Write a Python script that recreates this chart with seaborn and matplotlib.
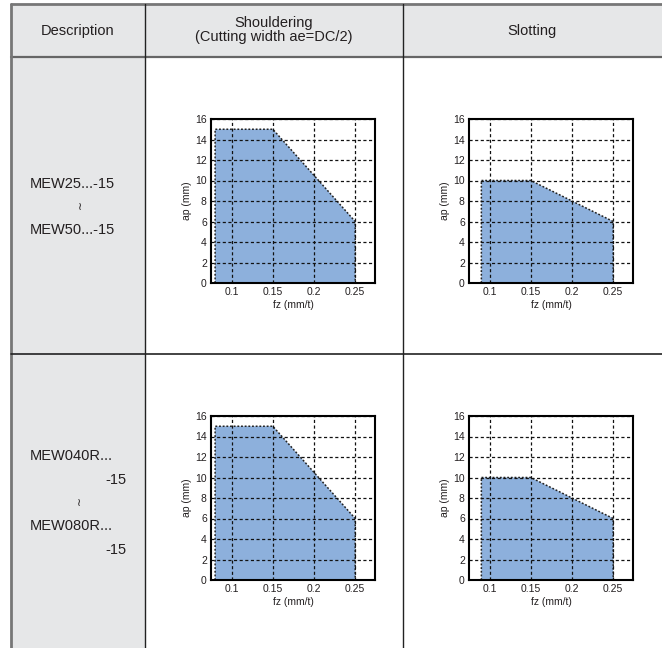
import matplotlib
matplotlib.use("Agg")
import matplotlib.pyplot as plt
import seaborn as sns

sns.set_theme(style="white")
plt.rcParams["font.family"] = ["Liberation Sans", "DejaVu Sans"]

# cutting-condition areas (fz in mm/t, ap in mm)
fz_shoulder = [0.08, 0.08, 0.15, 0.25, 0.25]
ap_shoulder = [0, 15, 15, 6, 0]
fz_slot = [0.09, 0.09, 0.15, 0.25, 0.25]
ap_slot = [0, 10, 10, 6, 0]

x_ticks = [0.1, 0.15, 0.2, 0.25]
x_ticklabels = ["0.1", "0.15", "0.2", "0.25"]
y_ticks = [0, 2, 4, 6, 8, 10, 12, 14, 16]

headers = ["Description", "Shouldering\n(Cutting width ae=DC/2)", "Slotting"]
row1_names = ["MEW25...-15", "MEW50...-15"]
row2_names = ["MEW040R...", "-15", "MEW080R...", "-15"]

FILL = "#8db0dc"
TXT = "#231f20"
W, H = 662, 648

fig = plt.figure(figsize=(W / 100, H / 100), dpi=100)

# table background
bg = fig.add_axes([0, 0, 1, 1], zorder=-1)
bg.set_xlim(0, W)
bg.set_ylim(H, 0)
bg.axis("off")
gray = "#e6e7e8"
bg.add_patch(plt.Rectangle((11, 4), W - 11, 53, color=gray, lw=0))
bg.add_patch(plt.Rectangle((11, 57), 134, H - 57, color=gray, lw=0))
bg.plot([11, W], [4, 4], color="#777777", lw=2)
bg.plot([11, W], [57, 57], color="#666666", lw=1.6)
bg.plot([11, 11], [4, H], color="#777777", lw=2)
bg.plot([145, 145], [4, H], color="#222222", lw=1)
bg.plot([403, 403], [4, H], color="#222222", lw=1)
bg.plot([11, W], [354, 354], color="#222222", lw=1.2)

kw = dict(fontsize=10.5, color=TXT)
bg.text(78, 31, headers[0], ha="center", va="center", **kw)
bg.text(274, 30, headers[1], ha="center", va="center", linespacing=0.95, **kw)
bg.text(532, 31, headers[2], ha="center", va="center", **kw)

bg.text(30, 184, row1_names[0], ha="left", va="center", **kw)
bg.text(80, 207, "≀", ha="center", va="center", fontsize=8, color=TXT,
        family=["DejaVu Sans"])
bg.text(30, 230, row1_names[1], ha="left", va="center", **kw)

bg.text(30, 456, row2_names[0], ha="left", va="center", **kw)
bg.text(127, 480, row2_names[1], ha="right", va="center", **kw)
bg.text(79, 503, "≀", ha="center", va="center", fontsize=8, color=TXT,
        family=["DejaVu Sans"])
bg.text(30, 526, row2_names[2], ha="left", va="center", **kw)
bg.text(127, 550, row2_names[3], ha="right", va="center", **kw)


def draw_chart(left, top, fz, ap):
    ax = fig.add_axes([left / W, (H - top - 164) / H, 164 / W, 164 / H])
    ax.fill(fz, ap, color=FILL, lw=0, zorder=1)
    sns.lineplot(x=fz, y=ap, sort=False, estimator=None, ax=ax,
                 color="#222222", lw=1.1, linestyle=(0, (1.2, 1.2)), zorder=2)
    ax.set_xlim(0.075, 0.274)
    ax.set_ylim(0, 16)
    ax.set_xticks(x_ticks)
    ax.set_xticklabels(x_ticklabels)
    ax.set_yticks(y_ticks)
    ax.grid(True, color="#111111", lw=0.9, linestyle=(0, (2.5, 2)), zorder=3)
    ax.set_axisbelow(False)
    ax.tick_params(length=0, pad=3, labelsize=7.5, colors=TXT)
    ax.set_xlabel("fz (mm/t)", fontsize=7.5, labelpad=2, color=TXT)
    ax.set_ylabel("ap (mm)", fontsize=7.5, labelpad=2, color=TXT)
    ax.set_facecolor("white")
    for s in ax.spines.values():
        s.set_color("black")
        s.set_linewidth(1.5)
        s.set_zorder(4)
    return ax


draw_chart(211, 119, fz_shoulder, ap_shoulder)
draw_chart(469, 119, fz_slot, ap_slot)
draw_chart(211, 416, fz_shoulder, ap_shoulder)
draw_chart(469, 416, fz_slot, ap_slot)

fig.savefig("out.png", dpi=100)
